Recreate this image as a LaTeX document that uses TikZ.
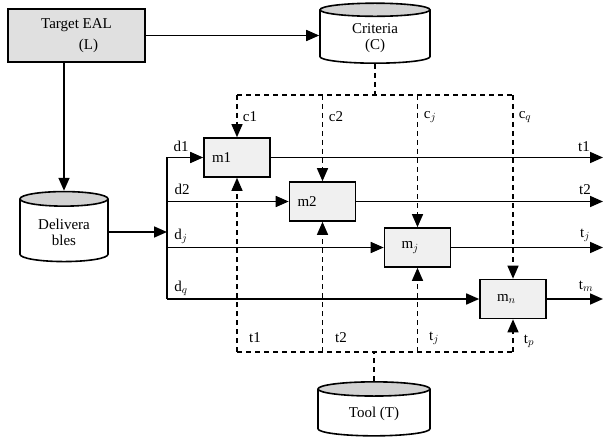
\documentclass[tikz,border=0pt]{standalone}
\usepackage{fontspec}
\setmainfont{Liberation Serif}
\usetikzlibrary{positioning,arrows.meta,shapes.geometric,calc}

\begin{document}
\begin{tikzpicture}[
  x=1pt, y=-1pt,
  font=\fontsize{15}{16}\selectfont, >={Triangle[length=13pt,width=11pt]},
  line width=1.6pt,
  gbox/.style={draw, fill=gray!24, minimum width=137pt, minimum height=53pt, align=center},
  mbox/.style={draw, fill=gray!12, minimum width=66pt, minimum height=39pt,
               text width=50pt, align=left},
  store/.style={draw, cylinder, shape border rotate=90, aspect=0.25,
               cylinder uses custom fill, cylinder end fill=gray!35,
               cylinder body fill=white, align=center},
  arr/.style={->},
  ctl/.style={dash pattern=on 5pt off 4pt, line width=1.3pt},
  lbl/.style={inner sep=1pt},
]
\useasboundingbox (0,0) rectangle (605,441);

% sources
\node[gbox] (eal) at (76.5,35.5) {Target EAL\\[5pt]\hspace*{1.6em}(L)};
\node[store, minimum width=110pt, minimum height=60pt] (crit) at (375,38) {Criteria\\(C)};
\node[store, minimum width=88pt, minimum height=70pt] (deliv) at (64,232) {Delivera\\bles};
\node[store, minimum width=112pt, minimum height=54pt] (tool) at (374,414) {Tool (T)};

% measures
\node[mbox] (m1) at (237,157.5) {m1};
\node[mbox] (m2) at (322.5,201.5) {m2};
\node[mbox] (mj) at (417.5,247.5) {\hspace*{0.6em}m$_j$};
\node[mbox] (mn) at (513,299) {\hspace*{0.6em}m$_n$};

\coordinate (bus) at (167,0);
\coordinate (oend) at (603,0);
\coordinate (cbus) at (0,95);
\coordinate (tbus) at (0,352);

\draw[arr] (eal.east) -- (crit.west |- eal.east);
\draw[arr] (eal.south -| deliv.north) -- (deliv.north);
\draw[arr] (deliv.east) -- (deliv.east -| bus);

% deliverables to measures
\draw (m1.west -| bus) -- (mn.west -| bus);
\draw[arr] (m1.west -| bus) -- (m1.west);
\draw[arr] (m2.west -| bus) -- (m2.west);
\draw[arr] (mj.west -| bus) -- (mj.west);
\draw[arr] (mn.west -| bus) -- (mn.west);

% results
\draw[arr] (m1.east) -- (m1.east -| oend);
\draw[arr] (m2.east) -- (m2.east -| oend);
\draw[arr] (mj.east) -- (mj.east -| oend);
\draw[arr] (mn.east) -- (mn.east -| oend);

% criteria
\draw[ctl] (crit.south) -- (crit.south |- cbus);
\draw[ctl] (m1.north |- cbus) -- (mn.north |- cbus);
\draw[ctl, ->] (m1.north |- cbus) -- (m1.north);
\draw[ctl, ->] (m2.north |- cbus) -- (m2.north);
\draw[ctl, ->] (mj.north |- cbus) -- (mj.north);
\draw[ctl, ->] (mn.north |- cbus) -- (mn.north);

% tool
\draw[ctl] (tool.north) -- (tool.north |- tbus);
\draw[ctl] (m1.south |- tbus) -- (mn.south |- tbus);
\draw[ctl, ->] (m1.south |- tbus) -- (m1.south);
\draw[ctl, ->] (m2.south |- tbus) -- (m2.south);
\draw[ctl, ->] (mj.south |- tbus) -- (mj.south);
\draw[ctl, ->] (mn.south |- tbus) -- (mn.south);

% labels
\node[lbl] (lc1) at (250,117) {c1};
\node[lbl] (lc2) at (336,117) {c2};
\node[lbl] (lcj) at (430,117) {c$_j$};
\node[lbl] (lcq) at (525,117) {c$_q$};
\node[lbl] (ld1) at (181,146) {d1};
\node[lbl] (ld2) at (182,189) {d2};
\node[lbl] (ldj) at (181,236) {d$_j$};
\node[lbl] (ldq) at (181,288) {d$_q$};
\node[lbl] (lt1) at (584,147) {t1};
\node[lbl] (lt2) at (585,190) {t2};
\node[lbl] (ltj) at (585,235) {t$_j$};
\node[lbl] (ltm) at (586,286) {t$_m$};
\node[lbl] (ls1) at (255,338) {t1};
\node[lbl] (ls2) at (341,338) {t2};
\node[lbl] (lsj) at (434,338) {t$_j$};
\node[lbl] (lsp) at (529,341) {t$_p$};
\end{tikzpicture}
\end{document}
